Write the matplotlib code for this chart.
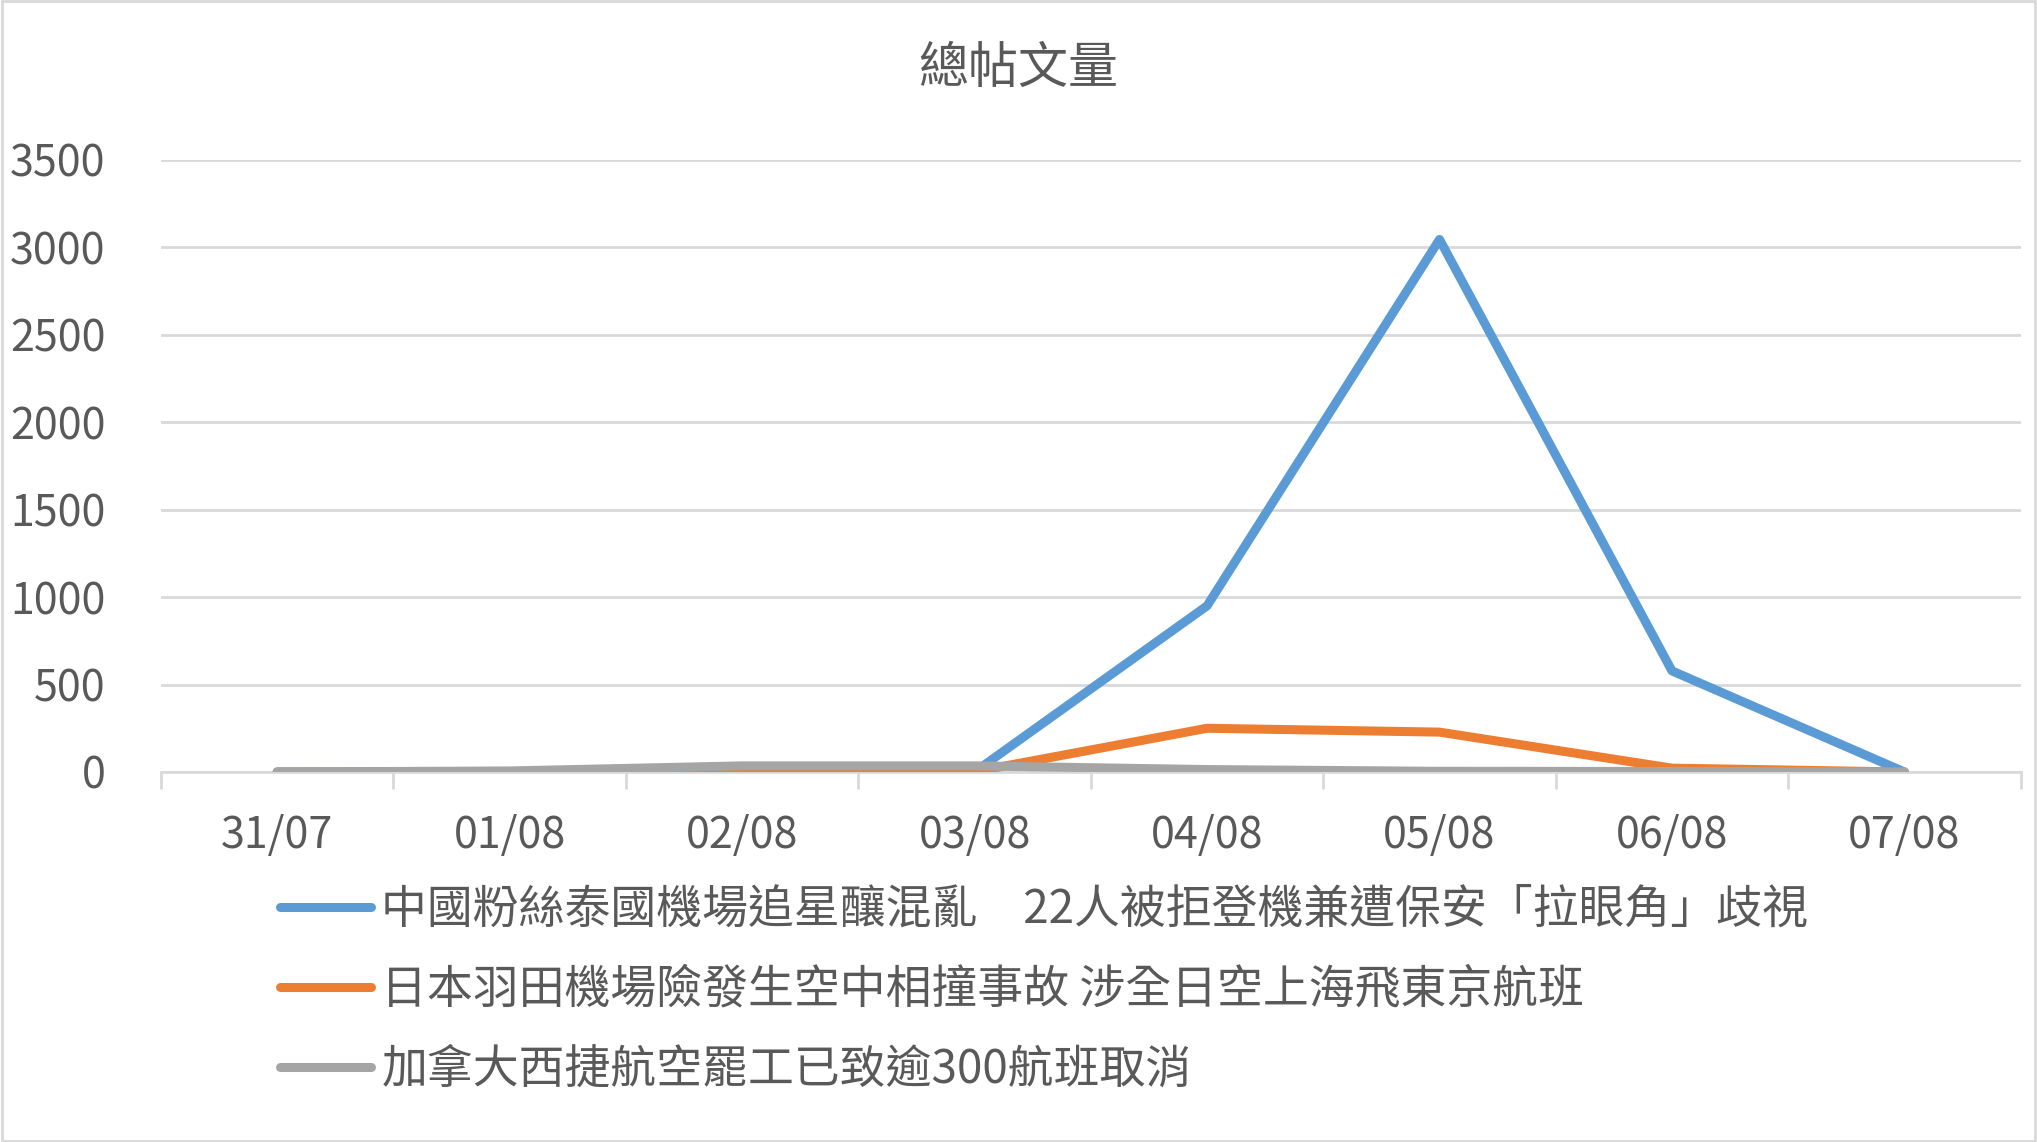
import matplotlib
matplotlib.use("Agg")
import matplotlib.pyplot as plt
from matplotlib.patches import Rectangle
from matplotlib.ticker import FixedLocator

plt.rcParams['font.family'] = ['Noto Sans CJK TC', 'DejaVu Sans']

title = "總帖文量"
dates = ["31/07", "01/08", "02/08", "03/08", "04/08", "05/08", "06/08", "07/08"]
series_names = [
    "中國粉絲泰國機場追星釀混亂　22人被拒登機兼遭保安「拉眼角」歧視",
    "日本羽田機場險發生空中相撞事故 涉全日空上海飛東京航班",
    "加拿大西捷航空罷工已致逾300航班取消",
]
blue_vals = [0, 0, 0, 0, 950, 3045, 578, 0]
orange_vals = [0, 0, 2, 2, 250, 228, 22, 0]
gray_vals = [0, 6, 35, 35, 14, 4, 3, 0]
colors = ["#5B9BD5", "#ED7D31", "#A5A5A5"]
yticks = [0, 500, 1000, 1500, 2000, 2500, 3000, 3500]

text_color = "#595959"
grid_color = "#D9D9D9"

fig = plt.figure(figsize=(20.37, 11.42), dpi=100)
ax = fig.add_axes([0.079, 0.324, 0.913, 0.536])

x = list(range(len(dates)))
handles = []
for vals, c, name in zip([blue_vals, orange_vals, gray_vals], colors, series_names):
    h, = ax.plot(x, vals, color=c, lw=6.5, solid_capstyle='round',
                 solid_joinstyle='round', label=name)
    handles.append(h)

ax.set_xlim(-0.5, len(dates) - 0.5)
ax.set_ylim(0, 3500)
ax.set_yticks(yticks)
ax.set_yticklabels([str(v) for v in yticks])
ax.yaxis.grid(True, color=grid_color, lw=2)
ax.set_axisbelow(True)
ax.set_xticks(x)
ax.set_xticklabels(dates)
ax.xaxis.set_minor_locator(FixedLocator([i - 0.5 for i in range(len(dates) + 1)]))
ax.tick_params(axis='x', which='major', length=0, pad=30, labelsize=31, labelcolor=text_color)
ax.tick_params(axis='x', which='minor', length=12, width=2, color=grid_color, direction='out')
ax.tick_params(axis='y', length=0, pad=40, labelsize=31, labelcolor=text_color)
for lab in ax.get_yticklabels():
    lab.set_horizontalalignment('right')
for s in ['top', 'right', 'left']:
    ax.spines[s].set_visible(False)
ax.spines['bottom'].set_color(grid_color)
ax.spines['bottom'].set_linewidth(2)
ax.spines['bottom'].set_zorder(0.5)

fig.text(0.5, 0.94, title, ha='center', va='center', fontsize=36, color=text_color)

leg = fig.legend(handles=handles, loc='upper left', bbox_to_anchor=(0.126, 0.245),
                 frameon=False, fontsize=33, handlelength=2.0, handletextpad=0.22,
                 labelspacing=0.69, borderpad=0)
for t in leg.get_texts():
    t.set_color(text_color)

fig.patches.append(Rectangle((0.001, 0.001), 0.998, 0.998, transform=fig.transFigure,
                             fill=False, edgecolor=grid_color, lw=2))

fig.savefig("out.png", dpi=100)
